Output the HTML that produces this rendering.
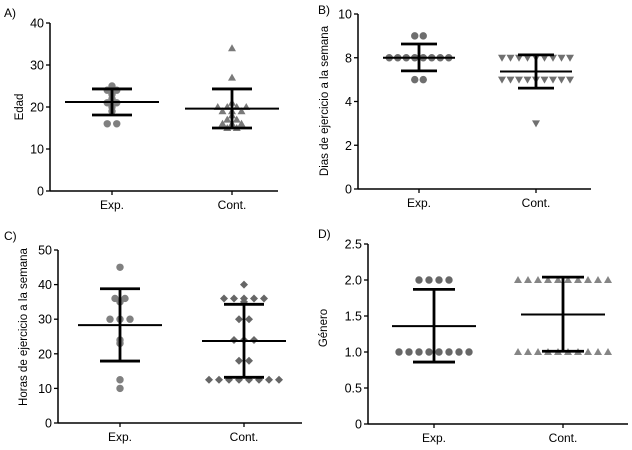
<!DOCTYPE html>
<html><head><meta charset="utf-8">
<style>
html,body{margin:0;padding:0;background:#fff;}
svg{display:block;font-family:"Liberation Sans",Arial,sans-serif;}
</style></head>
<body>
<svg id="fig" width="632" height="450" viewBox="0 0 632 450"></svg>
<script>
// Panel A: Edad
const aCategories = ["Exp.", "Cont."];
const aExpValues = [24,24,25,23,22,21,21,20,19,16,16];
const aContValues = [34,27,20,20,20,20,19,19,19,21,18,17,17,16,16,16,15,15];
const aMeans = [21.2, 19.6];
const aUpper = [24.3, 24.3];
const aLower = [18.1, 15.0];
const aTicks = [0,10,20,30,40];
const aTickLabels = ["0","10","20","30","40"];
// Panel B: Dias de ejercicio
const bCategories = ["Exp.", "Cont."];
const bExpValues = [7,7,6,6,6,6,6,6,6,6,5,5];
const bContValues = [6,6,6,6,6,6,6,6,6,5,5,5,5,5,5,5,5,5,3];
const bMeans = [6.0, 5.37];
const bUpper = [6.63, 6.13];
const bLower = [5.4, 4.61];
const bTicks = [0,2,4,6,8];
const bTickLabels = ["0","2","4","8","10"];
// Panel C: Horas de ejercicio
const cCategories = ["Exp.", "Cont."];
const cExpValues = [45,36,36,35,30,30,30,24,23,12.5,10];
const cContValues = [40,36,36,36,36,36,35,30,30,24,24,24,18,18,12.5,12.5,12.5,12.5,12.5,12.5,12.5,12.5];
const cMeans = [28.3, 23.7];
const cUpper = [38.8, 34.3];
const cLower = [17.9, 13.2];
const cTicks = [0,10,20,30,40,50];
const cTickLabels = ["0","10","20","30","40","50"];
// Panel D: Genero
const dCategories = ["Exp.", "Cont."];
const dExpValues = [2,2,2,2,1,1,1,1,1,1,1,1];
const dContValues = [2,2,2,2,2,2,2,2,2,2,1,1,1,1,1,1,1,1,1,1];
const dMeans = [1.36, 1.52];
const dUpper = [1.87, 2.04];
const dLower = [0.86, 1.01];
const dTicks = [0,0.5,1,1.5,2,2.5];
const dTickLabels = ["0","0.5","1.0","1.5","2.0","2.5"];

const NS = "http://www.w3.org/2000/svg";
const svg = document.getElementById("fig");
function mk(tag, attrs, parent){
  const e = document.createElementNS(NS, tag);
  for (const k in attrs) e.setAttribute(k, attrs[k]);
  (parent||svg).appendChild(e);
  return e;
}
function marker(g, shape, cx, cy, color){
  let e;
  if (shape === "circle") e = mk("circle", {cx:cx, cy:cy, r:3.7, fill:color}, g);
  else if (shape === "tri") e = mk("polygon", {points:`${cx},${cy-4} ${cx-4},${cy+3} ${cx+4},${cy+3}`, fill:color}, g);
  else if (shape === "itri") e = mk("polygon", {points:`${cx},${cy+4} ${cx-4},${cy-3} ${cx+4},${cy-3}`, fill:color}, g);
  else e = mk("polygon", {points:`${cx},${cy-4} ${cx+4},${cy} ${cx},${cy+4} ${cx-4},${cy}`, fill:color}, g);
  return e;
}
function panel(cfg){
  const g = mk("g", {});
  
  
  const yS = v => cfg.y0 - (v - cfg.dmin) / (cfg.dmax - cfg.dmin) * (cfg.y0 - cfg.y1);
  const lab = mk("text", {x:cfg.lx, y:cfg.ly, "font-size":12, fill:"#000"}, g);
  lab.textContent = cfg.letter;
  
  
  // axes
  const ya = mk("line", {x1:cfg.ax, y1:cfg.y1, x2:cfg.ax, y2:cfg.y0, stroke:"#000", "stroke-width":1.5}, g);
  
  
  const xa = mk("line", {x1:cfg.ax, y1:cfg.y0, x2:cfg.xend, y2:cfg.y0, stroke:"#000", "stroke-width":1.5}, g);
  
  
  cfg.ticks.forEach((t,i) => {
    const y = yS(t);
    mk("line", {x1:cfg.ax-4, y1:y, x2:cfg.ax, y2:y, stroke:"#000", "stroke-width":1.3}, g);
    const tl = mk("text", {x:cfg.ax-6, y:y+4.5, "font-size":12.5, "text-anchor":"end", fill:"#000"}, g);
    tl.textContent = cfg.tickLabels[i];
    
    
  });
  const yt = mk("text", {x:0, y:0, "font-size":11.5, "text-anchor":"middle", fill:"#000", transform:`translate(${cfg.tx},${cfg.ty}) rotate(-90)`}, g);
  yt.textContent = cfg.title;
  
  
  const groups = [cfg.exp, cfg.cont];
  groups.forEach((vals, gi) => {
    const cx = cfg.cx[gi];
    mk("line", {x1:cx, y1:cfg.y0, x2:cx, y2:cfg.y0+4, stroke:"#000", "stroke-width":1.3}, g);
    const xl = mk("text", {x:cx, y:cfg.y0+18, "font-size":12, "text-anchor":"middle", fill:"#000"}, g);
    xl.textContent = cfg.cats[gi];
    
    
    // beeswarm: spread equal values
    const counts = {}, idx = {};
    vals.forEach(v => counts[v] = (counts[v]||0) + 1);
    vals.forEach(v => {
      idx[v] = (idx[v]||0);
      const k = counts[v], i = idx[v]++;
      const x = cx + (i - (k-1)/2) * cfg.sp;
      const m = marker(g, cfg.shapes[gi], x, yS(v), cfg.colors[gi]);
      
      
    });
    const ml = mk("line", {x1:cx-cfg.mw, y1:yS(cfg.means[gi]), x2:cx+cfg.mw, y2:yS(cfg.means[gi]), stroke:"#000", "stroke-width":2}, g);
    
    
    const eb = mk("path", {d:`M${cx},${yS(cfg.upper[gi])}V${yS(cfg.lower[gi])}M${cx-cfg.cw},${yS(cfg.upper[gi])}H${cx+cfg.cw}M${cx-cfg.cw},${yS(cfg.lower[gi])}H${cx+cfg.cw}`, stroke:"#000", "stroke-width":2.8, fill:"none"}, g);
    
    
  });
}
panel({name:"panel-a-edad", letter:"A)", lx:4, ly:17, ax:50, y0:191, y1:23, xend:278, dmin:0, dmax:40,
  ticks:aTicks, tickLabels:aTickLabels, title:"Edad", tx:23, ty:107, cats:aCategories,
  exp:aExpValues, cont:aContValues, means:aMeans, upper:aUpper, lower:aLower,
  cx:[112,232], sp:9.5, mw:47, cw:20, shapes:["circle","tri"], colors:["#808080","#7a7a7a"]});
panel({name:"panel-b-dias", letter:"B)", lx:318, ly:14, ax:358, y0:189, y1:14, xend:591, dmin:0, dmax:8,
  ticks:bTicks, tickLabels:bTickLabels, title:"Dias de ejercicio a la semana", tx:328, ty:101, cats:bCategories,
  exp:bExpValues, cont:bContValues, means:bMeans, upper:bUpper, lower:bLower,
  cx:[419,536], sp:8.5, mw:36, cw:18, shapes:["circle","itri"], colors:["#6e6e6e","#707070"]});
panel({name:"panel-c-horas", letter:"C)", lx:4, ly:240, ax:58, y0:423, y1:250, xend:302, dmin:0, dmax:50,
  ticks:cTicks, tickLabels:cTickLabels, title:"Horas de ejercicio a la semana", tx:27, ty:327, cats:cCategories,
  exp:cExpValues, cont:cContValues, means:cMeans, upper:cUpper, lower:cLower,
  cx:[120,244], sp:10, mw:42, cw:20, shapes:["circle","diamond"], colors:["#808080","#666666"]});
panel({name:"panel-d-genero", letter:"D)", lx:318, ly:238, ax:368, y0:424, y1:244, xend:628, dmin:0, dmax:2.5,
  ticks:dTicks, tickLabels:dTickLabels, title:"Género", tx:327, ty:328, cats:dCategories,
  exp:dExpValues, cont:dContValues, means:dMeans, upper:dUpper, lower:dLower,
  cx:[434,563], sp:10, mw:42, cw:21, shapes:["circle","tri"], colors:["#676767","#858585"]});
</script>
</body></html>
